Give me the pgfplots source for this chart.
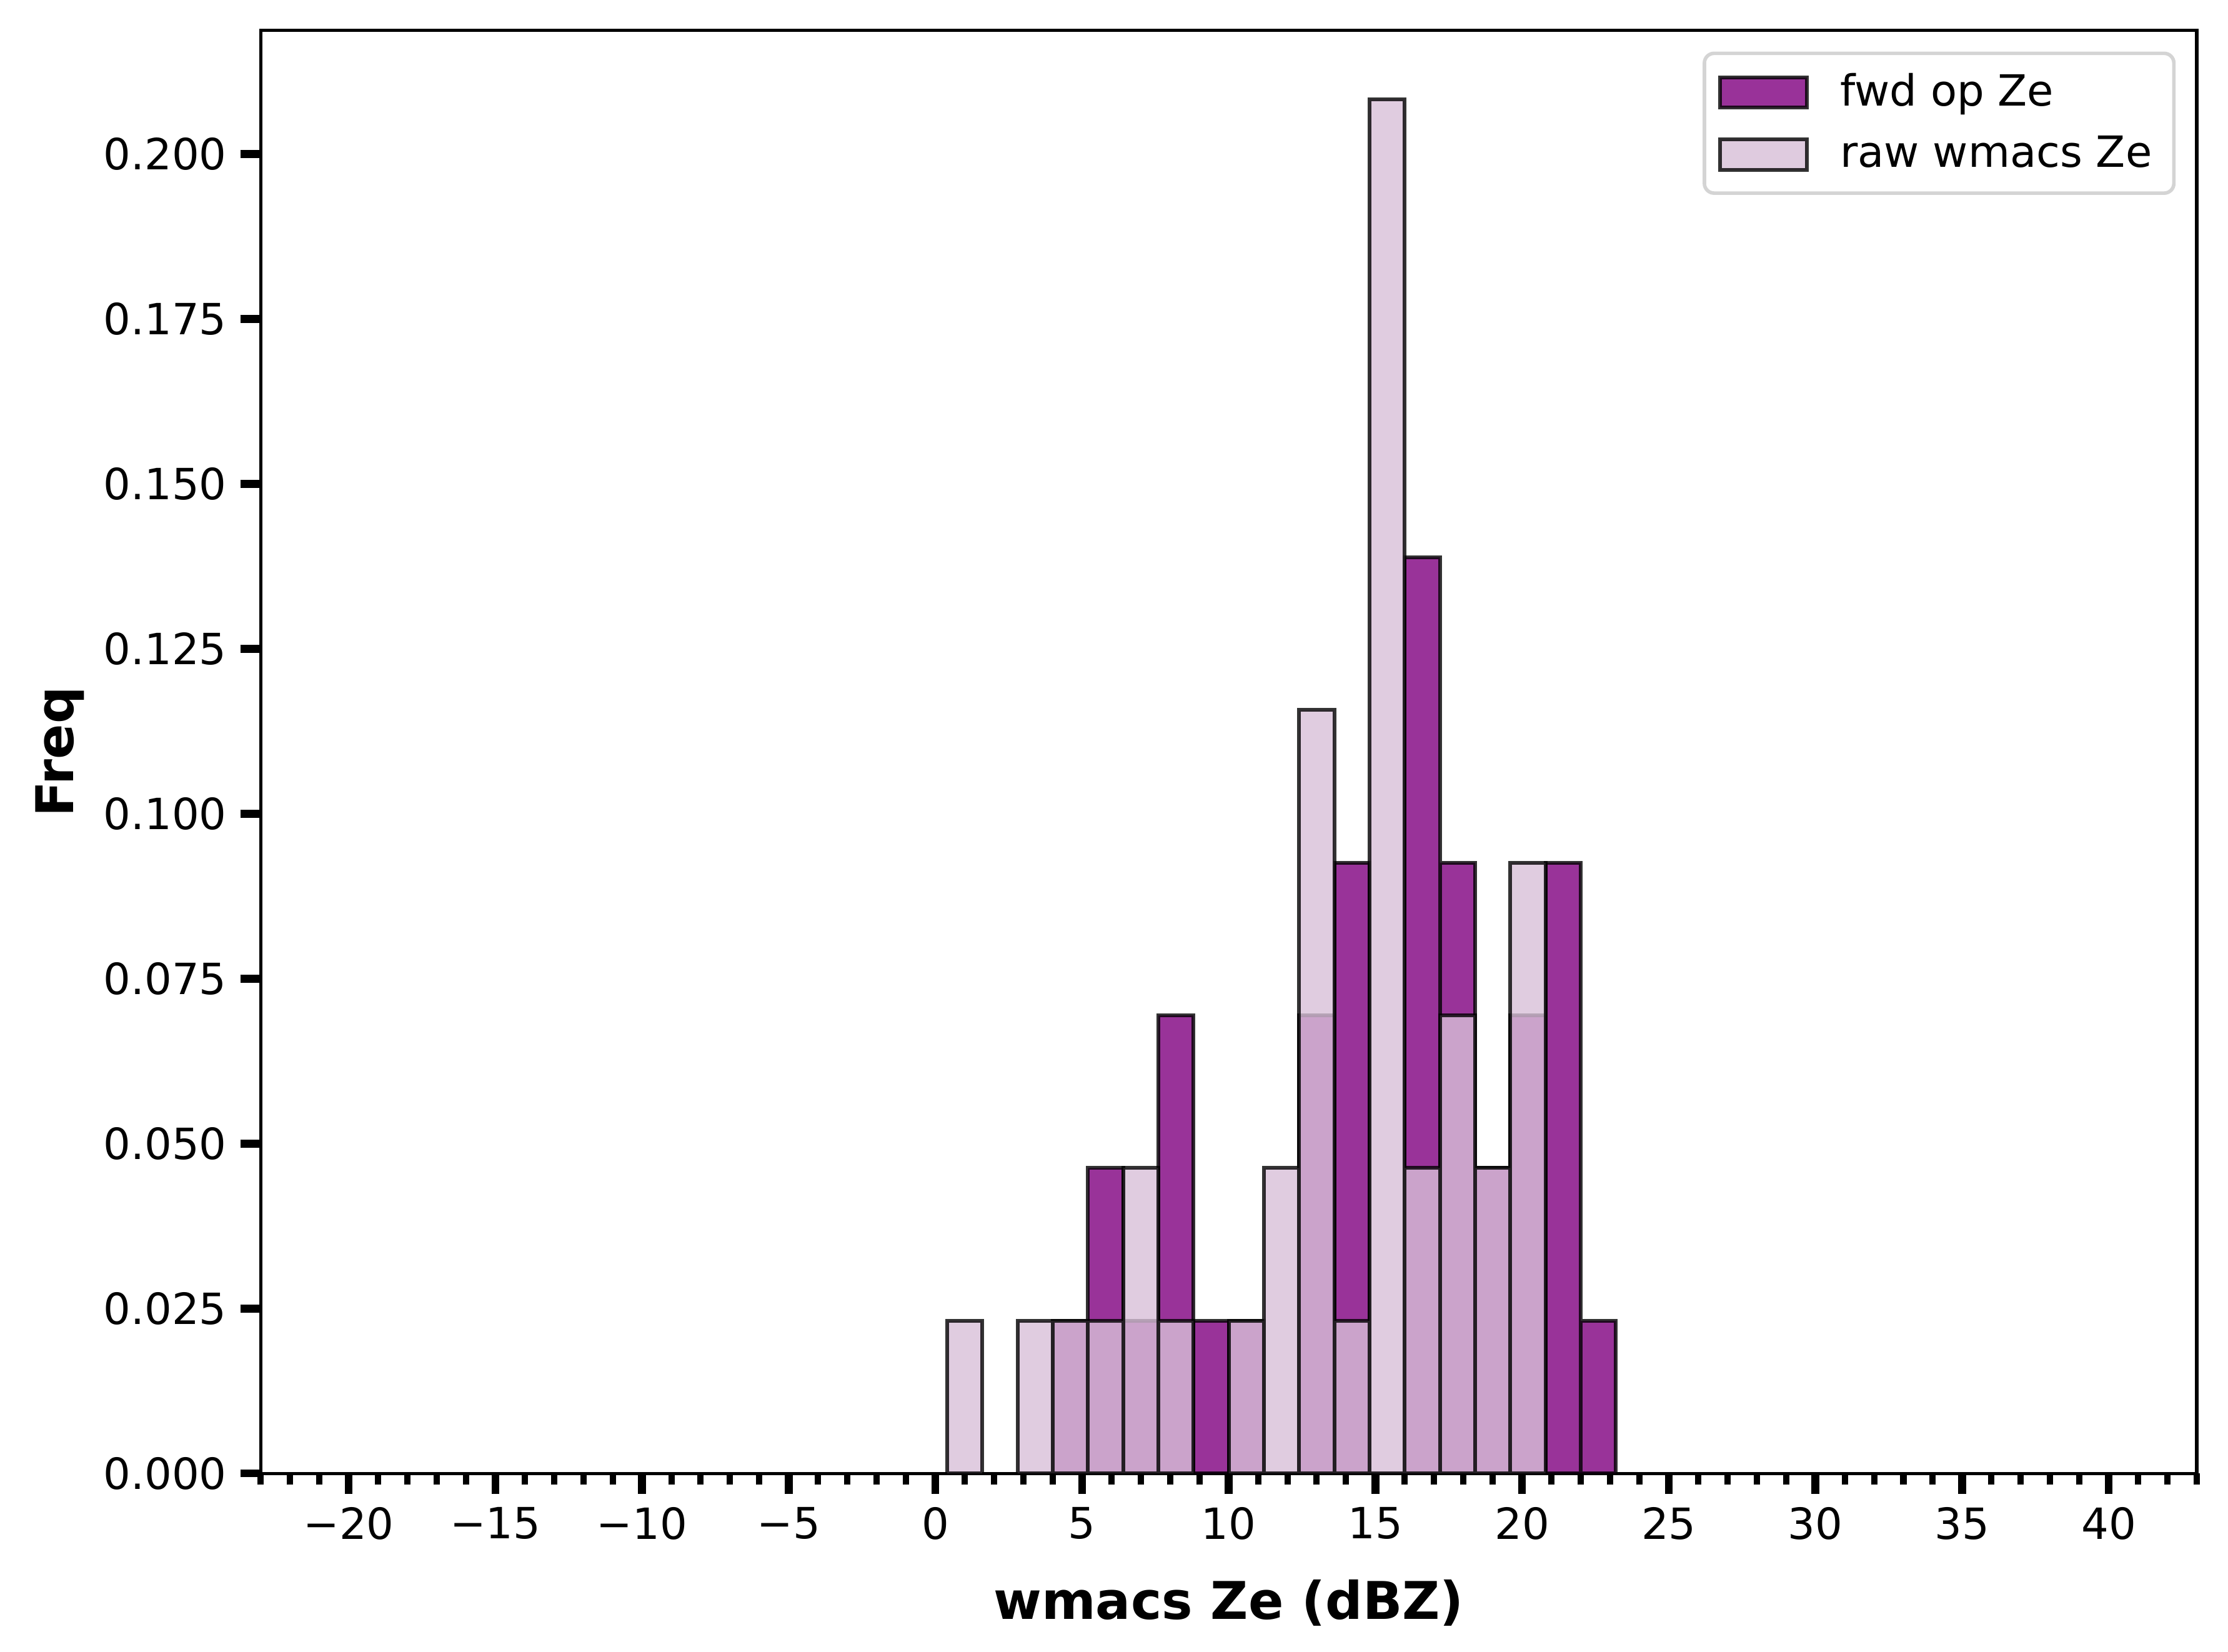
\documentclass[border=0pt]{standalone}
\usepackage{fontspec}
\setmainfont{DejaVu Sans}
\usepackage{pgfplots}
\pgfplotsset{compat=1.18}
\usetikzlibrary{calc}
\definecolor{fwdc}{RGB}{128,0,128}
\definecolor{rawc}{RGB}{216,191,216}
\begin{document}
\begin{tikzpicture}
\begin{axis}[
  scale only axis,
  width=495.4pt, height=369.2pt,
  xmin=-23, xmax=43, ymin=0, ymax=0.21875,
  axis line style={line width=0.85pt},
  tick align=outside,
  xtick pos=bottom, ytick pos=left,
  xtick={-20,-15,-10,-5,0,5,10,15,20,25,30,35,40},
  xticklabels={−20,−15,−10,−5,0,5,10,15,20,25,30,35,40},
  minor xtick={-23,-22,...,43},
  ytick={0,0.025,0.05,0.075,0.1,0.125,0.15,0.175,0.2},
  yticklabels={0.000,0.025,0.050,0.075,0.100,0.125,0.150,0.175,0.200},
  major tick length=5.2pt,
  minor tick length=2.9pt,
  major tick style={line width=2pt, black},
  minor tick style={line width=1.6pt, black},
  tick label style={font=\fontsize{11}{13}\selectfont},
  ybar, bar width=1.2, bar shift=0pt,
  area legend,
  legend cell align=left,
  legend image code/.code={\draw[#1, sharp corners, line width=0.95pt] (0pt,-3.9pt) rectangle (22.2pt,3.9pt);},
  legend style={at={(rel axis cs:1,1)}, anchor=north east, xshift=-5.4pt, yshift=-5.4pt,
    draw=black!17, line width=0.9pt, rounded corners=2.5pt, fill=white, fill opacity=0.8, text opacity=1,
    font=\fontsize{11}{13}\selectfont, inner xsep=3.6pt, inner ysep=3.1pt, row sep=2.2pt,
    /tikz/every odd column/.append style={column sep=6pt}},
]
\addplot[fill=fwdc, fill opacity=0.8, draw=black, draw opacity=0.8, line width=0.95pt] coordinates {
  (4.6,0.023148) (5.8,0.046296) (7.0,0.023148) (8.2,0.069444) (9.4,0.023148)
  (10.6,0.023148) (13.0,0.069444) (14.2,0.092593) (16.6,0.138889) (17.8,0.092593)
  (19.0,0.046296) (20.2,0.069444) (21.4,0.092593) (22.6,0.023148)
};
\addlegendentry{fwd op Ze}
\addplot[fill=rawc, fill opacity=0.8, draw=black, draw opacity=0.8, line width=0.95pt] coordinates {
  (1.0,0.023148) (3.4,0.023148) (4.6,0.023148) (5.8,0.023148) (7.0,0.046296)
  (8.2,0.023148) (10.6,0.023148) (11.8,0.046296) (13.0,0.115741) (14.2,0.023148)
  (15.4,0.208333) (16.6,0.046296) (17.8,0.069444) (19.0,0.046296) (20.2,0.092593)
};
\addlegendentry{raw wmacs Ze}
\coordinate (bl) at (rel axis cs:0,0);
\coordinate (tr) at (rel axis cs:1,1);
\coordinate (ml) at (rel axis cs:0,0.5);
\coordinate (bm) at (rel axis cs:0.5,0);
\end{axis}
\node[font=\bfseries\fontsize{13.3}{16}\selectfont] at ($(bm)+(0,-33.2pt)$) {wmacs Ze (dBZ)};
\node[font=\bfseries\fontsize{13.3}{16}\selectfont, rotate=90] at ($(ml)+(-51.3pt,0)$) {Freq};
\pgfresetboundingbox
\path ($(bl)+(-66.7pt,-45.6pt)$) rectangle ($(tr)+(8pt,7.8pt)$);
\end{tikzpicture}
\end{document}
